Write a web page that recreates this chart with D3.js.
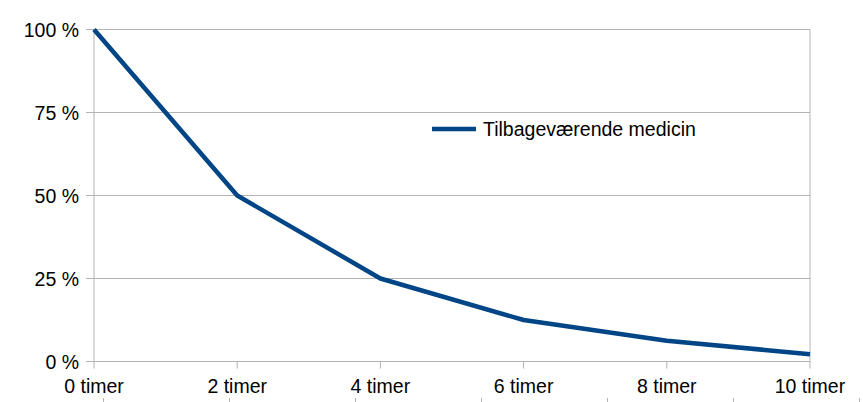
<!DOCTYPE html>
<html>
<head>
<meta charset="utf-8">
<script src="https://cdn.jsdelivr.net/npm/d3@7"></script>
<style>
  body { margin: 0; background: #fff; }
  svg { display: block; font-family: "Liberation Sans", Arial, sans-serif; }
</style>
</head>
<body>
<div id="chart"></div>
<script>
// Data
var categories = ["0 timer", "2 timer", "4 timer", "6 timer", "8 timer", "10 timer"];
var remaining = [100, 50, 25, 12.5, 6.25, 2.2];
var seriesName = "Tilbageværende medicin";
var yTicks = [0, 25, 50, 75, 100];
// stray tick row at the very bottom edge of the picture
var bottomTicks = [0, 1, 2, 3, 4, 5, 6];

var W = 863, H = 402;
var margin = {top: 29.5, right: 53, bottom: 40.5, left: 94},
    width = W - margin.left - margin.right,
    height = H - margin.top - margin.bottom;

var gray = "#b3b3b3",
    blue = "#004586",
    fontSize = 19.5;

var svg = d3.select("#chart").append("svg")
    .attr("width", W)
    .attr("height", H);

var g = svg.append("g")
    .attr("transform", "translate(" + margin.left + "," + margin.top + ")");

// Scales
var x = d3.scalePoint()
    .domain(categories)
    .range([0, width]);
var y = d3.scaleLinear()
    .domain([0, 100])
    .range([height, 0]);

// Horizontal grid lines (extend left as tick marks)
g.append("g")
    .selectAll("line")
    .data(yTicks)
    .join("line")
    .attr("x1", -8)
    .attr("x2", width)
    .attr("y1", function(d) { return y(d); })
    .attr("y2", function(d) { return y(d); })
    .attr("stroke", gray)
    .attr("stroke-width", 1);

// Left axis line and right border
g.append("line")
    .attr("x1", 0).attr("x2", 0)
    .attr("y1", 0).attr("y2", height)
    .attr("stroke", gray);
g.append("line")
    .attr("x1", width).attr("x2", width)
    .attr("y1", 0).attr("y2", height)
    .attr("stroke", gray);

// X ticks below the axis
g.append("g")
    .selectAll("line")
    .data(categories)
    .join("line")
    .attr("x1", function(d) { return x(d); })
    .attr("x2", function(d) { return x(d); })
    .attr("y1", height)
    .attr("y2", height + 7)
    .attr("stroke", gray);

// Y labels
g.append("g")
    .selectAll("text")
    .data(yTicks)
    .join("text")
    .attr("x", -15)
    .attr("y", function(d) { return y(d); })
    .attr("dy", "0.36em")
    .attr("text-anchor", "end")
    .attr("font-size", fontSize)
    .attr("fill", "#000")
    .text(function(d) { return d + " %"; });

// X labels
g.append("g")
    .selectAll("text")
    .data(categories)
    .join("text")
    .attr("x", function(d) { return x(d); })
    .attr("y", height + 31.5)
    .attr("text-anchor", "middle")
    .attr("font-size", fontSize)
    .attr("fill", "#000")
    .text(function(d) { return d; });

// The line
var line = d3.line()
    .x(function(d, i) { return x(categories[i]); })
    .y(function(d) { return y(d); });

g.append("path")
    .datum(remaining)
    .attr("fill", "none")
    .attr("stroke", blue)
    .attr("stroke-width", 4.5)
    .attr("stroke-linejoin", "round")
    .attr("d", line);

// Legend
var legend = svg.append("g")
    .attr("transform", "translate(432,129)");
legend.append("line")
    .attr("x1", 0).attr("x2", 44)
    .attr("y1", 0).attr("y2", 0)
    .attr("stroke", blue)
    .attr("stroke-width", 4.5);
legend.append("text")
    .attr("x", 51)
    .attr("y", 0)
    .attr("dy", "0.36em")
    .attr("font-size", fontSize)
    .attr("fill", "#000")
    .text(seriesName);

// Bottom edge tick row
var xb = d3.scaleLinear().domain([0, 6]).range([103.5, 859.5]);
svg.append("g")
    .selectAll("line")
    .data(bottomTicks)
    .join("line")
    .attr("x1", function(d) { return xb(d); })
    .attr("x2", function(d) { return xb(d); })
    .attr("y1", 398)
    .attr("y2", 402)
    .attr("stroke", gray);
</script>
</body>
</html>
